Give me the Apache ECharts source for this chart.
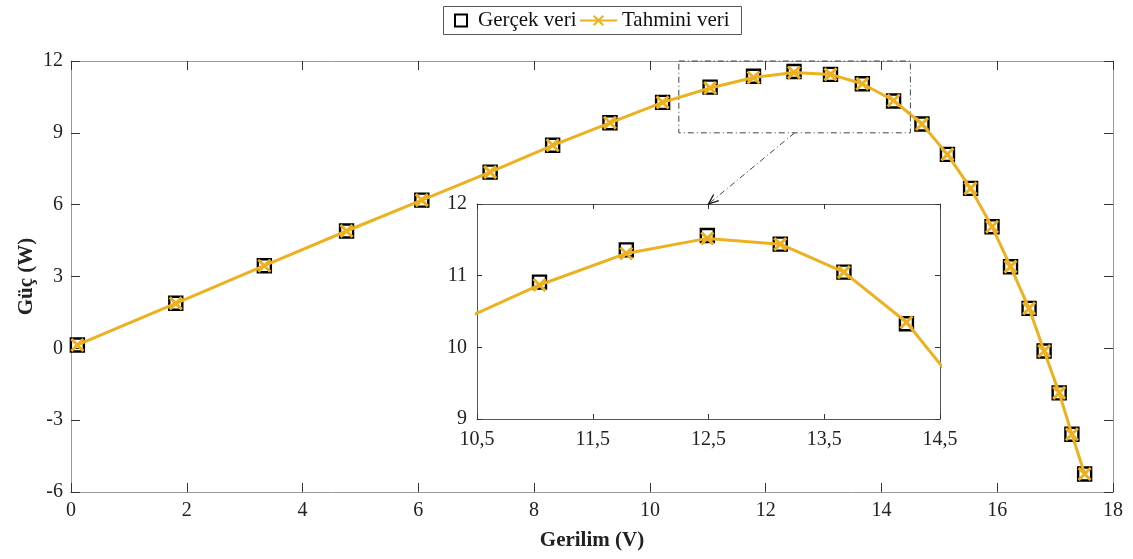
<!DOCTYPE html>
<html>
<head>
<meta charset="utf-8">
<script src="https://cdn.jsdelivr.net/npm/echarts@6/dist/echarts.min.js"></script>
<style>html,body{margin:0;padding:0;background:#fff}#c{width:1133px;height:559px}</style>
</head>
<body>
<div id="c"></div>
<script>
// ---- data ----
const voltage   = [0.11, 1.81, 3.34, 4.76, 6.06, 7.24, 8.32, 9.31, 10.22, 11.04, 11.79, 12.49, 13.12, 13.67, 14.21, 14.70, 15.14, 15.54, 15.91, 16.23, 16.55, 16.81, 17.07, 17.29, 17.51];
const measured  = [0.14, 1.88, 3.45, 4.90, 6.19, 7.36, 8.48, 9.42, 10.27, 10.91, 11.36, 11.56, 11.44, 11.05, 10.33, 9.37, 8.10, 6.68, 5.08, 3.41, 1.67, -0.11, -1.86, -3.59, -5.25];
const estimated = [0.14, 1.88, 3.45, 4.90, 6.19, 7.36, 8.48, 9.42, 10.27, 10.87, 11.31, 11.52, 11.44, 11.05, 10.35, 9.37, 8.10, 6.68, 5.08, 3.41, 1.67, -0.11, -1.86, -3.59, -5.25];
const seriesNames = ['Gerçek veri', 'Tahmini veri'];
const xTitle = 'Gerilim (V)';
const yTitle = 'Güç (W)';
const mainX = [0, 18, 2];      // min, max, interval
const mainY = [-6, 12, 3];
const zoomX = [10.5, 14.5, 1];
const zoomY = [9, 12, 1];

const pair = (xs, ys) => xs.map((x, i) => [x, ys[i]]);
const FONT = '"Liberation Serif", "DejaVu Serif", serif';
const ORANGE = '#EDB120';
const crossPath = 'path://M0,0L10,10M0,10L10,0';

const chart = echarts.init(document.getElementById('c'));

function axisCommon(range, opts) {
  return Object.assign({
    type: 'value', min: range[0], max: range[1], interval: range[2],
    splitLine: { show: false },
    axisLine: { show: true, onZero: false, lineStyle: { color: '#999', width: 1 } },
    axisTick: { show: true, inside: true, length: 9, lineStyle: { color: '#333', width: 1 } },
    axisLabel: { show: false }
  }, opts);
}
const insetLine = { show: true, onZero: false, lineStyle: { color: '#555', width: 1 } };
const insetTick = { show: true, inside: true, length: 5, lineStyle: { color: '#333' } };

const realSeries = (xi, yi, z) => ({
  name: seriesNames[0], type: 'scatter', xAxisIndex: xi, yAxisIndex: yi, z: z,
  data: pair(voltage, measured), symbol: 'rect', symbolSize: 13,
  itemStyle: { color: 'rgba(255,255,255,0)', borderColor: '#000', borderWidth: 2.4, opacity: 1 },
  clip: true
});
const estSeries = (xi, yi, z) => ({
  name: seriesNames[1], type: 'line', xAxisIndex: xi, yAxisIndex: yi, z: z,
  data: pair(voltage, estimated), symbol: crossPath, symbolSize: 12,
  showSymbol: true, showAllSymbol: true,
  lineStyle: { color: ORANGE, width: 3 },
  itemStyle: { color: ORANGE, borderColor: ORANGE, borderWidth: 3 },
  clip: true
});

const legendText = { fontFamily: FONT, fontSize: 21, color: '#111' };

chart.setOption({
  animation: false,
  textStyle: { fontFamily: FONT },
  legend: [
    { data: [seriesNames[0]], left: 454, top: 10, itemWidth: 12, itemHeight: 12,
      padding: 0, textStyle: Object.assign({ padding: [0, 0, 0, 6] }, legendText), selectedMode: false },
    { data: [seriesNames[1]], left: 579, top: 10, itemWidth: 37, itemHeight: 12,
      padding: 0, textStyle: legendText, selectedMode: false }
  ],
  grid: [
    { left: 71, top: 61, width: 1042, height: 431, containLabel: false },
    { left: 477, top: 204, width: 463, height: 215, show: true, backgroundColor: '#fff', borderWidth: 0, z: 5 }
  ],
  xAxis: [
    axisCommon(mainX, { gridIndex: 0, position: 'bottom',
      axisLabel: { show: true, margin: 9, fontSize: 20, color: '#222', fontFamily: FONT },
      name: xTitle, nameLocation: 'middle', nameGap: 38,
      nameTextStyle: { fontFamily: FONT, fontSize: 21, fontWeight: 'bold', color: '#222' } }),
    axisCommon(mainX, { gridIndex: 0, position: 'top' }),
    axisCommon(zoomX, { gridIndex: 1, position: 'bottom', z: 6,
      axisLine: insetLine, axisTick: insetTick,
      axisLabel: { show: true, margin: 11, fontSize: 20, color: '#222', fontFamily: FONT,
        showMinLabel: true, showMaxLabel: true,
        formatter: v => v.toFixed(1).replace('.', ',') } }),
    axisCommon(zoomX, { gridIndex: 1, position: 'top', z: 6, axisLine: insetLine, axisTick: insetTick })
  ],
  yAxis: [
    axisCommon(mainY, { gridIndex: 0, position: 'left',
      axisLabel: { show: true, margin: 8, fontSize: 20, color: '#222', fontFamily: FONT },
      name: yTitle, nameLocation: 'middle', nameGap: 34, nameRotate: 90, nameMoveOverlap: false,
      nameTextStyle: { fontFamily: FONT, fontSize: 21, fontWeight: 'bold', color: '#222' } }),
    axisCommon(mainY, { gridIndex: 0, position: 'right' }),
    axisCommon(zoomY, { gridIndex: 1, position: 'left', z: 6,
      axisLine: insetLine, axisTick: insetTick,
      axisLabel: { show: true, margin: 10, fontSize: 20, color: '#222', fontFamily: FONT } }),
    axisCommon(zoomY, { gridIndex: 1, position: 'right', z: 6, axisLine: insetLine, axisTick: insetTick })
  ],
  series: [
    realSeries(0, 0, 2),
    estSeries(0, 0, 3),
    realSeries(2, 2, 7),
    estSeries(2, 2, 8)
  ]
});

// zoom rectangle, connector arrow and legend frame, positioned through the axes
const p1 = chart.convertToPixel({ gridIndex: 0 }, [zoomX[0], zoomY[1]]);
const p2 = chart.convertToPixel({ gridIndex: 0 }, [zoomX[1], zoomY[0]]);
const midX = (zoomX[0] + zoomX[1]) / 2;
const a0 = chart.convertToPixel({ gridIndex: 0 }, [midX, zoomY[0]]);
const a1 = chart.convertToPixel({ gridIndex: 1 }, [midX, zoomY[1]]);
const dx = a1[0] - a0[0], dy = a1[1] - a0[1];
const len = Math.hypot(dx, dy), ux = dx / len, uy = dy / len;
const hl = 10, hw = 4;
const h1 = [a1[0] - ux * hl - uy * hw, a1[1] - uy * hl + ux * hw];
const h2 = [a1[0] - ux * hl + uy * hw, a1[1] - uy * hl - ux * hw];
const dash = { stroke: '#444', lineWidth: 1, lineDash: [6, 3, 1, 3], fill: null };
chart.setOption({
  graphic: [
    { type: 'rect', z: 10, silent: true,
      shape: { x: p1[0], y: p1[1], width: p2[0] - p1[0], height: p2[1] - p1[1] }, style: dash },
    { type: 'line', z: 10, silent: true,
      shape: { x1: a0[0], y1: a0[1], x2: a1[0], y2: a1[1] }, style: dash },
    { type: 'polyline', z: 10, silent: true,
      shape: { points: [h1, a1, h2] }, style: { stroke: '#111', lineWidth: 1.3, fill: null } },
    { type: 'rect', z: 10, silent: true,
      shape: { x: 443.5, y: 6.5, width: 298, height: 28 }, style: { stroke: '#555', lineWidth: 1, fill: null } }
  ]
});
</script>
</body>
</html>
